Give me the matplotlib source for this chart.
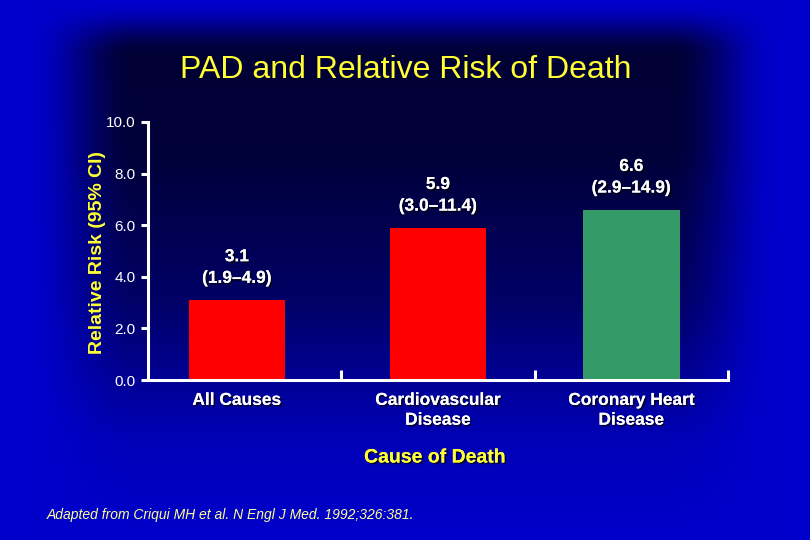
import numpy as np
import matplotlib
matplotlib.use('Agg')
import matplotlib.pyplot as plt
import matplotlib.patheffects as pe

plt.rcParams['font.family'] = ['Liberation Sans', 'DejaVu Sans']

# data
causes = ['All Causes', 'Cardiovascular\nDisease', 'Coronary Heart\nDisease']
relative_risk = [3.1, 5.9, 6.6]
ci_labels = ['(1.9\u20134.9)', '(3.0\u201311.4)', '(2.9\u201314.9)']
bar_colors = ['#FF0000', '#FF0000', '#339966']
yticks = [0.0, 2.0, 4.0, 6.0, 8.0, 10.0]

YELLOW = '#FFFF33'
shadow = [pe.withSimplePatchShadow(offset=(1.2, -1.2), shadow_rgbFace='black', alpha=0.7),
          pe.Normal()]


def smooth(t):
    t = np.clip(t, 0, 1)
    return t * t * (3 - 2 * t)


fig = plt.figure(figsize=(8.1, 5.4), dpi=100)

# background: bright blue frame fading into a dark navy centre
W, H = 810, 540
xx, yy = np.meshgrid(np.arange(W), np.arange(H))
inner = np.interp(yy, [0, 150, 300, 440, 540], [0.20, 0.22, 0.40, 0.72, 0.80])
left = smooth((135 - xx) / 110)
right = smooth((xx - 670) / 110)
top = smooth((55 - yy) / 55)
m = 1 - (1 - left) * (1 - right) * (1 - top)
blue = inner * (1 - m) + 0.80 * m
img = np.zeros((H, W, 3))
img[..., 2] = blue
bg = fig.add_axes([0, 0, 1, 1])
bg.imshow(img, aspect='auto', interpolation='bilinear')
bg.axis('off')

ax = fig.add_axes([148 / W, 1 - 380 / H, 580 / W, 258 / H])
ax.patch.set_alpha(0)
x = np.array([0.46, 1.5, 2.5])
ax.bar(x, relative_risk, width=0.5, color=bar_colors, zorder=2)
ax.set_xlim(0, 3)
ax.set_ylim(0, 10)

for s in ['top', 'right']:
    ax.spines[s].set_visible(False)
for s in ['left', 'bottom']:
    ax.spines[s].set_color('white')
    ax.spines[s].set_linewidth(2.2)

ax.set_yticks(yticks)
ax.set_yticklabels([f'{v:.1f}' for v in yticks])
ax.tick_params(axis='y', colors='white', length=5, width=2.2, labelsize=11, pad=4)
ax.set_xticks([1, 2, 3])
ax.set_xticklabels([])
ax.tick_params(axis='x', colors='white', direction='in', length=7, width=2.2)

for xi, label in zip(x, causes):
    ax.text(xi, -0.5, label, ha='center', va='top', color='white', fontsize=12.5,
            fontweight='bold', linespacing=1.4, path_effects=shadow)

for xi, v, ci in zip(x, relative_risk, ci_labels):
    ax.text(xi, v + 0.55, f'{v:.1f}\n{ci}', ha='center', va='bottom', color='white',
            fontsize=12.5, fontweight='bold', linespacing=1.55, path_effects=shadow)

fig.text(406 / W, 1 - 70 / H, 'PAD and Relative Risk of Death', ha='center', va='center',
         color=YELLOW, fontsize=23)
fig.text(97 / W, 1 - 252 / H, 'Relative Risk (95% CI)', ha='center', va='center',
         rotation=90, color=YELLOW, fontsize=14, fontweight='bold')
fig.text(435 / W, 1 - 458 / H, 'Cause of Death', ha='center', va='center',
         color=YELLOW, fontsize=14, fontweight='bold', path_effects=shadow)
fig.text(47 / W, 1 - 515 / H, 'Adapted from Criqui MH et al. N Engl J Med. 1992;326:381.',
         ha='left', va='center', color='#FFFF99', fontsize=10, style='italic')

fig.savefig('out.png', dpi=100)
